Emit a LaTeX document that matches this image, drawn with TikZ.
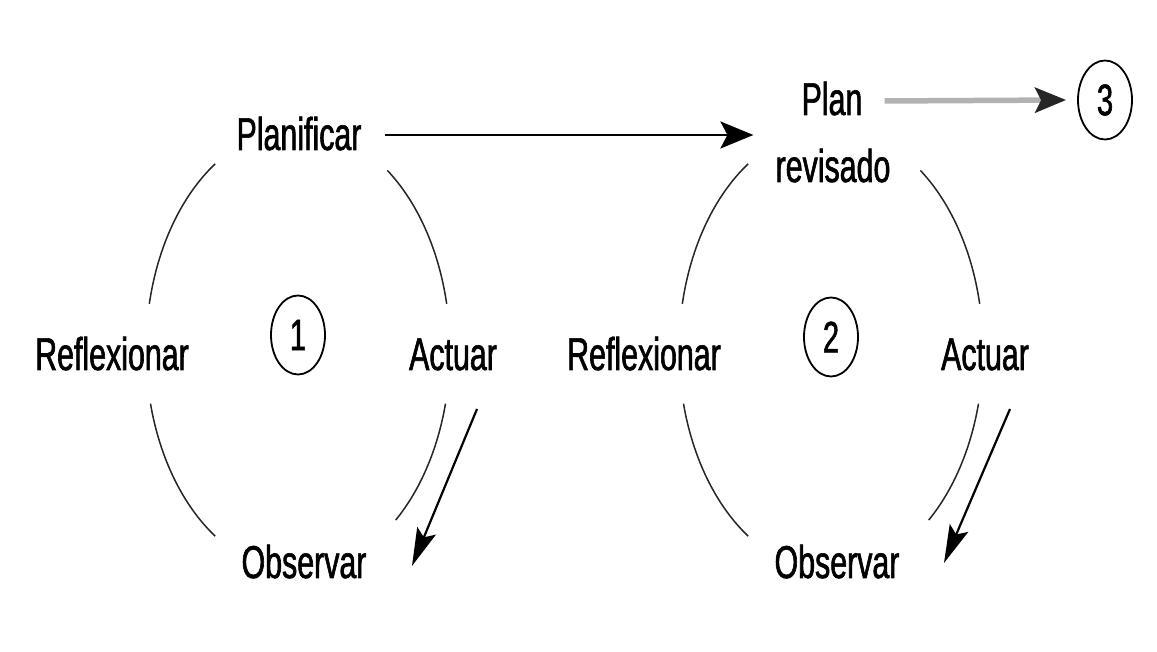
\documentclass[tikz,border=0pt]{standalone}
\usepackage{fontspec}
\setmainfont{Liberation Sans}[FakeStretch=0.66,FakeBold=1.3]
\usetikzlibrary{arrows.meta,shapes.geometric}

\tikzset{
  etiq/.style={anchor=base,inner sep=0pt,font=\fontsize{46}{50}\selectfont},
  num/.style={ellipse,draw,line width=1.8pt,inner sep=0pt,minimum width=54pt,
    minimum height=79pt,font=\fontsize{44}{48}\selectfont},
  arco/.style={line width=1.5pt,black!85},
  flecha/.style={line width=2.8pt,-{Stealth[length=33pt,width=27pt,inset=7pt]}},
  flechados/.style={line width=2.2pt,-{Stealth[length=38pt,width=20pt,inset=7pt]}},
  flechagris/.style={line width=5.5pt,gray!60,-{Stealth[length=31pt,width=25pt,inset=6pt,black!85]}}
}

\begin{document}
\begin{tikzpicture}[x=1pt,y=1pt]
  \useasboundingbox (0,0) rectangle (1157,652);

  % Ciclo 1
  \node[etiq] (plani) at (299,502) {Planificar};
  \node[etiq] (refl1) at (112,282) {Reflexionar};
  \node[etiq] (act1) at (453,282) {Actuar};
  \node[etiq] (obs1) at (304,74) {Observar};
  \node[num] (c1) at (298,317) {1};
  \coordinate (m1) at (298,302);

  % Arcos del ciclo 1
  \draw[arco] (m1) ++(123:152 and 222) arc[start angle=123,end angle=168,x radius=152,y radius=222];
  \draw[arco] (m1) ++(194:152 and 222) arc[start angle=194,end angle=237,x radius=152,y radius=222];
  \draw[arco] (m1) ++(-50:152 and 222) arc[start angle=-50,end angle=-14,x radius=152,y radius=222];
  \draw[arco] (m1) ++(12:152 and 222) arc[start angle=12,end angle=54,x radius=152,y radius=222];
  \draw[flechados] ([shift={(24pt,-39pt)}]act1.base) -- ([shift={(108pt,12pt)}]obs1.base);

  % Ciclo 2
  \node[etiq] (plan) at (832,537) {Plan};
  \node[etiq] (revis) at (833,470) {revisado};
  \node[etiq] (refl2) at (644,282) {Reflexionar};
  \node[etiq] (act2) at (985,282) {Actuar};
  \node[etiq] (obs2) at (837,74) {Observar};
  \node[num] (c2) at (831,315) {2};
  \coordinate (m2) at (831,302);

  % Arcos del ciclo 2
  \draw[arco] (m2) ++(123:152 and 222) arc[start angle=123,end angle=168,x radius=152,y radius=222];
  \draw[arco] (m2) ++(194:152 and 222) arc[start angle=194,end angle=237,x radius=152,y radius=222];
  \draw[arco] (m2) ++(-50:152 and 222) arc[start angle=-50,end angle=-14,x radius=152,y radius=222];
  \draw[arco] (m2) ++(12:152 and 222) arc[start angle=12,end angle=54,x radius=152,y radius=222];
  \draw[flechados] ([shift={(25pt,-39pt)}]act2.base) -- ([shift={(107pt,15pt)}]obs2.base);

  % Paso al plan revisado y al ciclo 3
  \node[num] (c3) at (1105,552) {3};
  \draw[flecha] ([xshift=23pt,yshift=15pt]plani.base east) -- ([xshift=-22pt,yshift=15pt]plani.base east -| revis.west);
  \draw[flechagris] ([xshift=22pt,yshift=14pt]plan.base east) -- ([xshift=-11pt]c3.west);
\end{tikzpicture}
\end{document}
